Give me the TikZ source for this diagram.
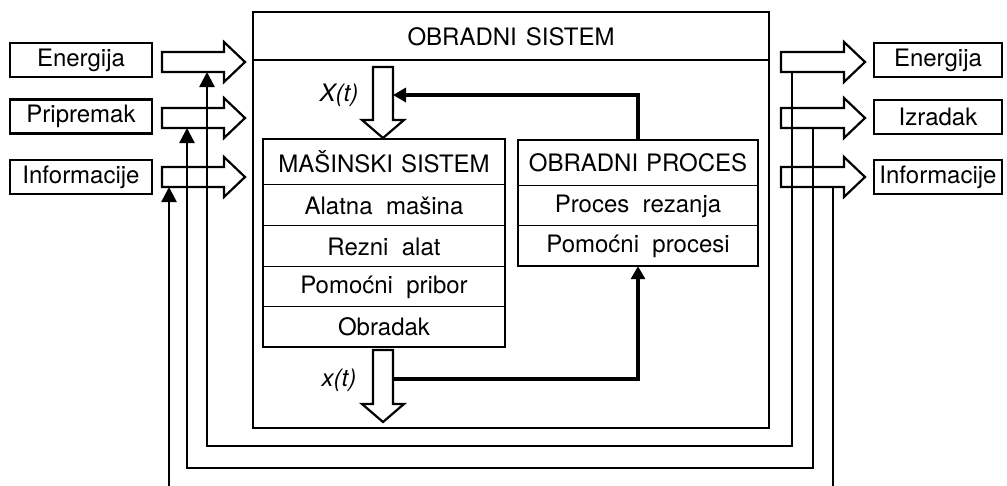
\documentclass[tikz,border=0pt]{standalone}
\usepackage{fontspec}
\setmainfont{TeX Gyre Heros}
\usetikzlibrary{arrows.meta}

% hollow block arrow pointing right: #1 = centre y, #2 = start x, #3 = tip x
\newcommand\hollowright[3]{%
  \draw[hollow] (#2,#1-10) -- (#3-21,#1-10) -- (#3-21,#1-20) -- (#3,#1)
    -- (#3-21,#1+20) -- (#3-21,#1+10) -- (#2,#1+10) -- cycle;}
% hollow block arrow pointing down: #1 = centre x, #2 = top y, #3 = tip y
\newcommand\hollowdown[3]{%
  \draw[hollow] (#1-10,#2) -- (#1-10,#3-18) -- (#1-21,#3-18) -- (#1,#3)
    -- (#1+21,#3-18) -- (#1+10,#3-18) -- (#1+10,#2) -- cycle;}

\begin{document}
\begin{tikzpicture}[x=1pt,y=-1pt,
  txt/.style={font=\fontsize{24}{28}\selectfont, inner sep=0pt},
  box/.style={txt, draw, line width=2.2pt, minimum height=34pt, minimum width=142pt},
  cell/.style={txt, minimum height=40pt},
  frame/.style={line width=2.2pt},
  divider/.style={line width=1.2pt},
  hollow/.style={line width=2.2pt, line join=miter},
  fb/.style={line width=2.4pt, -{Triangle[width=15pt,length=15pt]}},
  fbplain/.style={line width=2.4pt},
  signal/.style={line width=4pt, -{Triangle[width=14pt,length=13pt]}},
  lbl/.style={font=\fontsize{24}{28}\selectfont\itshape, inner sep=0pt}]

\useasboundingbox (0,0) rectangle (1007,485);

% inputs and outputs
\node[box] (inE) at (81,60) {Energija};
\node[box] (inP) at (81,116.5) {Pripremak};
\node[box] (inI) at (81,177) {Informacije};
\node[box, minimum width=128pt] (outE) at (938,60) {Energija};
\node[box, minimum width=128pt] (outP) at (938,117) {Izradak};
\node[box, minimum width=128pt] (outI) at (938,177) {Informacije};

% the processing system
\node[draw, frame, minimum width=516pt, minimum height=416pt] (sys) at (511,220) {};
\coordinate (divy) at (0,60);
\draw[frame] (sys.west |- divy) -- (sys.east |- divy);
\node[txt] (title) at (511,37) {OBRADNI\hspace{9pt}SISTEM};

% machine system
\node[cell, minimum width=242pt, minimum height=46pt] (m0) at (384,162) {MAŠINSKI\hspace{8pt}SISTEM};
\node[cell, minimum width=242pt, minimum height=41pt] (m1) at (384,205.5) {Alatna\ \ mašina};
\node[cell, minimum width=242pt, minimum height=41pt] (m2) at (384,246.5) {Rezni\ \ alat};
\node[cell, minimum width=242pt] (m3) at (384,287) {Pomoćni\ \ pribor};
\node[cell, minimum width=242pt] (m4) at (384,327) {Obradak};
\draw[frame] (m0.north west) rectangle (m4.south east);
\foreach \r in {m1,m2,m3,m4}
  \draw[divider] (\r.north west) -- (\r.north east);

% machining process
\node[cell, minimum width=240pt, minimum height=46pt] (p0) at (638,163) {OBRADNI\hspace{8pt}PROCES};
\node[cell, minimum width=240pt] (p1) at (638,206) {Proces\ \ rezanja};
\node[cell, minimum width=240pt] (p2) at (638,246) {Pomoćni\ \ procesi};
\draw[frame] (p0.north west) rectangle (p2.south east);
\foreach \r in {p1,p2}
  \draw[divider] (\r.north west) -- (\r.north east);

% block arrows
\hollowright{62}{162}{245}
\hollowright{118}{162}{245}
\hollowright{177}{162}{245}
\hollowright{62}{781}{865}
\hollowright{118}{781}{865}
\hollowright{177}{781}{865}
\hollowdown{383}{67}{138}
\hollowdown{383}{350}{422}

\node[lbl] (Xlab) at (339,95) {X(t)};
\node[lbl] (xlab) at (339,380) {x(t)};

% control signals
\coordinate (Xin) at (393,95);
\coordinate (xout) at (392,379);
\draw[signal] (p0.north) |- (Xin);
\draw[signal] (xout) -| (p2.south);

% feedback loops
\coordinate (eR) at (792,72);
\coordinate (eL) at (207,72);
\coordinate (pR) at (813,128);
\coordinate (pL) at (187,128);
\coordinate (iR) at (833,187);
\coordinate (iRb) at (833,490);
\coordinate (iL) at (169,187);
\coordinate (iLb) at (169,490);
\draw[fb] (eR) -- ++(0,374) -| (eL);
\draw[fb] (pR) -- ++(0,340) -| (pL);
\draw[fbplain] (iR) -- (iRb);
\draw[fb] (iLb) -- (iL);
\end{tikzpicture}
\end{document}
